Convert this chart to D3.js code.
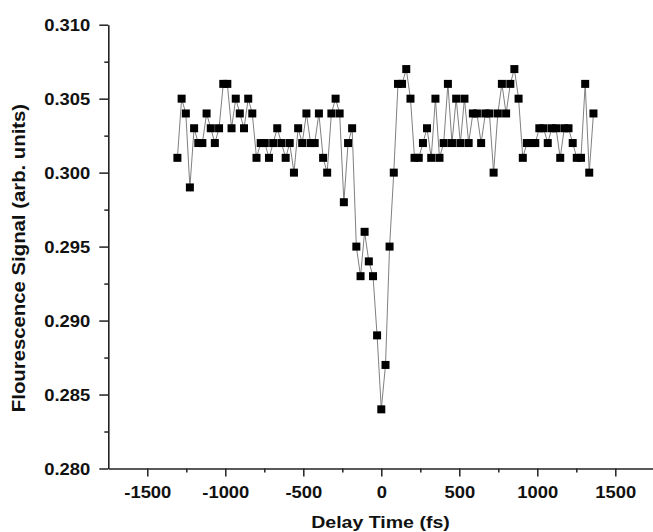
<!DOCTYPE html>
<html>
<head>
<meta charset="utf-8">
<script src="https://cdn.jsdelivr.net/npm/d3@7"></script>
<style>
  html, body { margin: 0; padding: 0; background: #fff; }
  svg { display: block; }
  text { font-family: "Liberation Sans", Arial, sans-serif; font-weight: bold; fill: #111; }
</style>
</head>
<body>
<svg id="chart" width="653" height="532"></svg>
<script>
// Delay time (fs)
const delays = [-1307,-1280,-1253,-1227,-1200,-1173,-1147,-1120,-1093,-1067,
  -1040,-1013,-987,-960,-933,-907,-880,-853,-827,-800,
  -773,-747,-720,-693,-667,-640,-613,-587,-560,-533,
  -507,-480,-453,-427,-400,-373,-347,-320,-293,-267,
  -240,-213,-187,-160,-133,-107,-80,-53,-27,0,
  27,53,80,107,133,160,187,213,240,267,
  293,320,347,373,400,427,453,480,507,533,
  560,587,613,640,667,693,720,747,773,800,
  827,853,880,907,933,960,987,1013,1040,1067,
  1093,1120,1147,1173,1200,1227,1253,1280,1307,1333,1360];
// Fluorescence signal (arb. units)
const signal = [0.301,0.305,0.304,0.299,0.303,0.302,0.302,0.304,0.303,0.302,
  0.303,0.306,0.306,0.303,0.305,0.304,0.303,0.305,0.304,0.301,
  0.302,0.302,0.301,0.302,0.303,0.302,0.301,0.302,0.300,0.303,
  0.302,0.304,0.302,0.302,0.304,0.301,0.300,0.304,0.305,0.304,
  0.298,0.302,0.303,0.295,0.293,0.296,0.294,0.293,0.289,0.284,
  0.287,0.295,0.300,0.306,0.306,0.307,0.305,0.301,0.301,0.302,
  0.303,0.301,0.305,0.301,0.302,0.306,0.302,0.305,0.302,0.305,
  0.302,0.304,0.304,0.302,0.304,0.304,0.300,0.304,0.306,0.304,
  0.306,0.307,0.305,0.301,0.302,0.302,0.302,0.303,0.303,0.302,
  0.303,0.303,0.301,0.303,0.303,0.302,0.301,0.301,0.306,0.300,0.304];
const xMajorTicks = [-1500,-1000,-500,0,500,1000,1500];
const xMinorTicks = [-1250,-750,-250,250,750,1250];
const yMajorTicks = [0.280,0.285,0.290,0.295,0.300,0.305,0.310];
const yMinorTicks = [0.2825,0.2875,0.2925,0.2975,0.3025,0.3075];
const xTitle = "Delay Time (fs)";
const yTitle = "Flourescence Signal (arb. units)";

const svg = d3.select("#chart");
const x = d3.scaleLinear().domain([-1750, 1750]).range([108.3, 654.3]);
const y = d3.scaleLinear().domain([0.280, 0.310]).range([468.5, 24.7]);
const SX = 1.15;

// X axis
const gx = svg.append("g").attr("transform", `translate(0,${y(0.280)})`);
gx.call(d3.axisBottom(x).tickValues(xMinorTicks).tickSize(4).tickFormat(""));
gx.call(g => g.selectAll(".domain").remove());
const gx2 = svg.append("g").attr("transform", `translate(0,${y(0.280)})`);
gx2.call(d3.axisBottom(x).tickValues(xMajorTicks).tickSize(8).tickSizeOuter(0).tickFormat(d => String(d)));
[gx, gx2].forEach(g => {
  g.selectAll("line").attr("stroke", "#222").attr("stroke-width", 1.5);
  g.selectAll(".domain").attr("stroke", "#222").attr("stroke-width", 1.6);
});
gx2.selectAll("text")
  .attr("y", 29.8).attr("dy", 0)
  .attr("transform", `scale(${SX},1)`)
  .style("font-size", "16px").attr("fill", "#111");

// Y axis
const gy = svg.append("g").attr("transform", `translate(${x(-1750)},0)`);
gy.call(d3.axisLeft(y).tickValues(yMinorTicks).tickSize(4).tickFormat(""));
gy.call(g => g.selectAll(".domain").remove());
const gy2 = svg.append("g").attr("transform", `translate(${x(-1750)},0)`);
gy2.call(d3.axisLeft(y).tickValues(yMajorTicks).tickSize(9).tickSizeOuter(0).tickFormat(d => d.toFixed(3)));
[gy, gy2].forEach(g => {
  g.selectAll("line").attr("stroke", "#222").attr("stroke-width", 1.5);
  g.selectAll(".domain").attr("stroke", "#222").attr("stroke-width", 1.6);
});
gy2.selectAll("text")
  .attr("x", -18 / SX).attr("dy", "0.35em")
  .attr("transform", `scale(${SX},1)`)
  .style("font-size", "16px").attr("fill", "#111");

// Titles
svg.append("text")
  .attr("transform", `translate(380.5,527.7) scale(${SX},1)`)
  .attr("text-anchor", "middle")
  .style("font-size", "17px")
  .text(xTitle);
svg.append("text")
  .attr("transform", `translate(25,258) rotate(-90) scale(1.13,1)`)
  .attr("text-anchor", "middle")
  .style("font-size", "18px")
  .text(yTitle);

// Data
const data = delays.map((d, i) => ({ t: d, v: signal[i] }));
svg.append("path")
  .datum(data)
  .attr("fill", "none")
  .attr("stroke", "#808080")
  .attr("stroke-width", 1)
  .attr("d", d3.line().x(d => x(d.t)).y(d => y(d.v)));
const S = 8;
svg.append("g").selectAll("rect")
  .data(data)
  .join("rect")
  .attr("x", d => x(d.t) - S / 2)
  .attr("y", d => y(d.v) - S / 2)
  .attr("width", S)
  .attr("height", S)
  .attr("fill", "#000");
</script>
</body>
</html>
